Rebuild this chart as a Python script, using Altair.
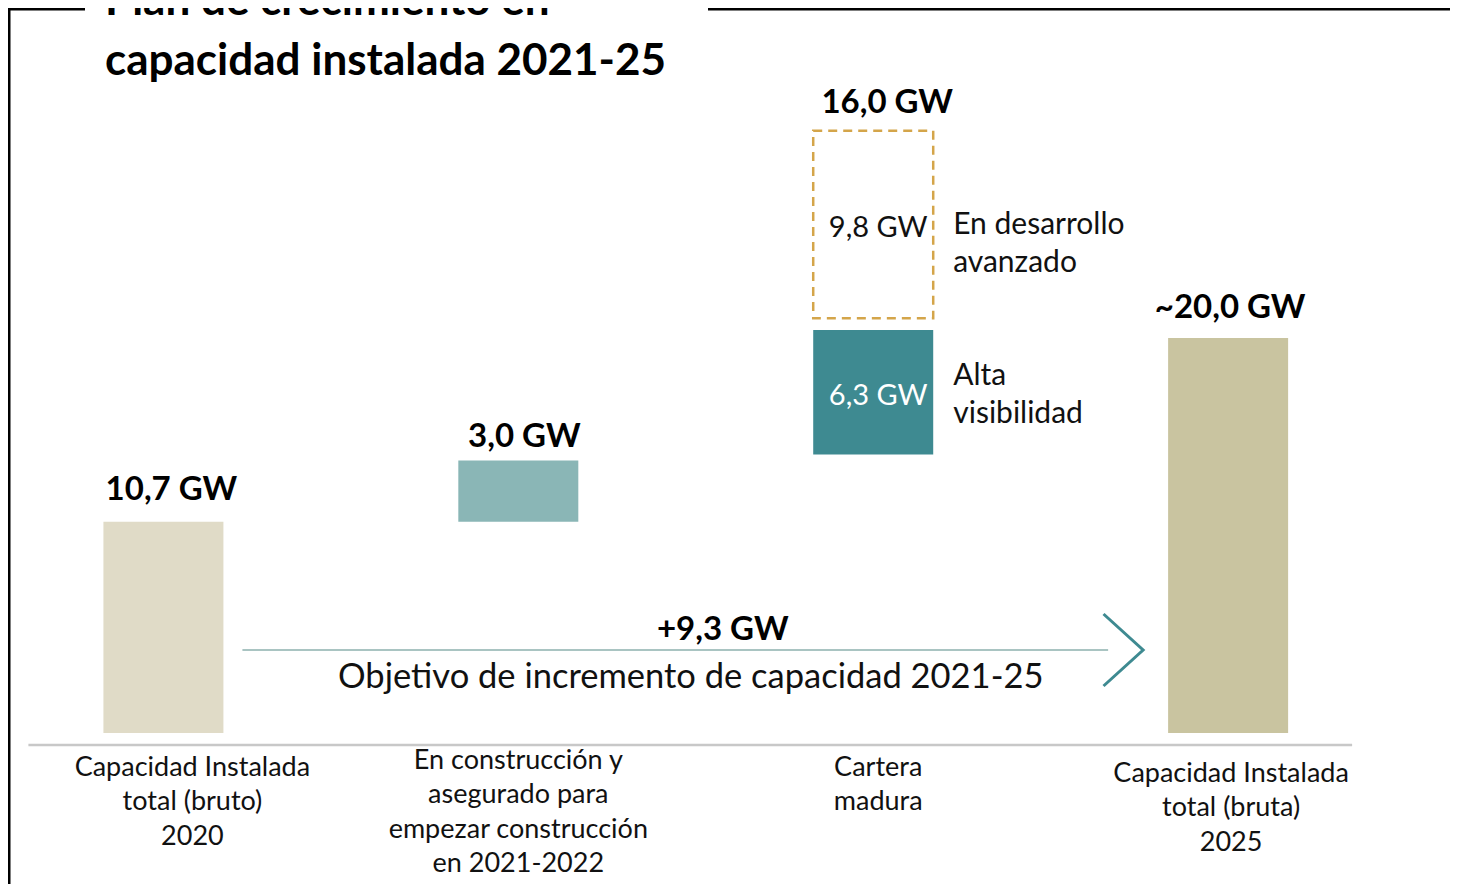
import altair as alt
import pandas as pd

FONT = "Lato"

# ---- data ----
categories = [
    "Capacidad Instalada\ntotal (bruto)\n2020",
    "En construcción y\nasegurado para\nempezar construcción\nen 2021-2022",
    "Cartera\nmadura",
    "Capacidad Instalada\ntotal (bruta)\n2025",
]
cat_slot = [0, 1, 2, 3]

seg_slot = [0, 1, 2, 3]
seg_start = [0.0, 10.7, 14.1, 0.0]
seg_end = [10.7, 13.8, 20.4, 20.0]
seg_kind = ["Capacidad 2020", "En construcción", "Alta visibilidad", "Capacidad 2025"]
seg_colors = ["#E0DBC7", "#8AB6B6", "#3E8A91", "#C9C4A0"]

dev_slot = [2]
dev_start = [21.0]
dev_end = [30.5]

top_slot = [0, 1, 2, 3]
top_value = [10.7, 13.8, 30.5, 20.0]
top_text = ["10,7 GW", "3,0 GW", "16,0 GW", "~20,0 GW"]

inner_slot = [2, 2]
inner_value = [25.75, 17.25]
inner_text = ["9,8 GW", "6,3 GW"]
inner_color = ["#111111", "#FFFFFF"]

note_slot = [2, 2]
note_value = [25.75, 17.25]
note_text = ["En desarrollo\navanzado", "Alta\nvisibilidad"]

growth_text = "+9,3 GW"
objective_text = "Objetivo de incremento de capacidad 2021-25"
title_lines = ["Plan de crecimiento en", "capacidad instalada 2021-25"]

# ---- layout (not data) ----
W, H = 1442, 876
cat_dx = [29, 0, 5, 3]
cat_dy = [22, 15, 22, 28]
top_dx = [8, 6, 14, 2]
top_dy = [-22, -13, -18, -20]
note_dy = [1, -16]

segs = pd.DataFrame({"slot": seg_slot, "start": seg_start, "end": seg_end, "kind": seg_kind})
dev = pd.DataFrame({"slot": dev_slot, "start": dev_start, "end": dev_end})
tops = pd.DataFrame({"slot": top_slot, "value": top_value, "text": top_text})
inner = pd.DataFrame({"slot": inner_slot, "value": inner_value, "text": inner_text, "c": inner_color})
notes = pd.DataFrame({"slot": note_slot, "value": note_value, "text": note_text})
cats = pd.DataFrame({"slot": cat_slot, "text": categories, "zero": [0.0] * 4})

xs = alt.Scale(domain=[-0.4379, 3.6252], nice=False, zero=False, padding=0)
ys = alt.Scale(domain=[-7.646, 36.71], nice=False, zero=False, padding=0)


def X(f="slot"):
    return alt.X(f"{f}:Q", scale=xs, axis=None)


def Y(f):
    return alt.Y(f"{f}:Q", scale=ys, axis=None)


bars = alt.Chart(segs).mark_bar(size=120, orient="vertical").encode(
    x=X(), y=Y("start"), y2="end:Q",
    color=alt.Color("kind:N", scale=alt.Scale(domain=seg_kind, range=seg_colors), legend=None),
)

dashed = alt.Chart(dev).mark_bar(
    size=120, orient="vertical", fill="white", fillOpacity=0,
    stroke="#D4A54A", strokeWidth=2.5, strokeDash=[9, 6],
).encode(x=X(), y=Y("start"), y2="end:Q")

top_layers = [
    alt.Chart(tops.iloc[[i]]).mark_text(
        font=FONT, fontSize=33, fontWeight="bold", color="#000000",
        align="center", baseline="alphabetic", dx=top_dx[i], dy=top_dy[i],
    ).encode(x=X(), y=Y("value"), text="text:N")
    for i in range(len(tops))
]

inner_labels = alt.Chart(inner).mark_text(
    font=FONT, fontSize=29, align="center", baseline="middle", dx=5, dy=4,
).encode(x=X(), y=Y("value"), text="text:N", color=alt.Color("c:N", scale=None))

note_layers = [
    alt.Chart(notes.iloc[[i]]).mark_text(
        font=FONT, fontSize=30, align="left", baseline="middle", dx=80, dy=note_dy[i],
        lineBreak="\n", lineHeight=38, color="#111111",
    ).encode(x=X(), y=Y("value"), text="text:N")
    for i in range(len(notes))
]

cat_layers = [
    alt.Chart(cats.iloc[[i]]).mark_text(
        font=FONT, fontSize=27, align="center", baseline="top",
        lineBreak="\n", lineHeight=34.5, color="#111111", dx=cat_dx[i], dy=cat_dy[i],
    ).encode(x=X(), y=Y("zero"), text="text:N")
    for i in range(len(cats))
]

guides = pd.DataFrame({"first": [0.0], "last": [3.0], "mid": [1.5], "zero": [0.0]})
g = alt.Chart(guides)

baseline = g.mark_rule(
    color="#C8C8C8", strokeWidth=2.5, xOffset=-135, x2Offset=124, yOffset=12,
).encode(x=X("first"), x2="last:Q", y=Y("zero"))

arrow_line = g.mark_rule(
    color="#A9C4C2", strokeWidth=2, xOffset=79, x2Offset=-120, yOffset=-83,
).encode(x=X("first"), x2="last:Q", y=Y("zero"))

chevron = g.mark_point(
    shape="M -1.1 -1 L 0 0 L -1.1 1", size=5184, filled=False,
    stroke="#3E8A91", strokeWidth=3, opacity=1, xOffset=-85, yOffset=-83,
).encode(x=X("last"), y=Y("zero"))

growth = g.mark_text(
    text=growth_text, font=FONT, fontSize=33, fontWeight="bold", color="#000000",
    align="center", baseline="alphabetic", dx=27, dy=-93,
).encode(x=X("mid"), y=Y("zero"))

objective = g.mark_text(
    text=objective_text, font=FONT, fontSize=34.5, color="#111111",
    align="center", baseline="alphabetic", dx=-5, dy=-45,
).encode(x=X("mid"), y=Y("zero"))

title1 = g.mark_text(
    text=title_lines[0], font=FONT, fontSize=44, fontWeight="bold", color="#000000",
    align="left", baseline="alphabetic",
).encode(x=alt.value(97), y=alt.value(7))
title2 = g.mark_text(
    text=title_lines[1], font=FONT, fontSize=44, fontWeight="bold", color="#000000",
    align="left", baseline="alphabetic",
).encode(x=alt.value(97), y=alt.value(67))

frame_left = g.mark_rule(color="#000000", strokeWidth=3).encode(
    x=alt.value(1), y=alt.value(0), y2=alt.value(H))
frame_top1 = g.mark_rule(color="#000000", strokeWidth=3).encode(
    x=alt.value(0), x2=alt.value(77), y=alt.value(1))
frame_top2 = g.mark_rule(color="#000000", strokeWidth=3).encode(
    x=alt.value(700), x2=alt.value(W), y=alt.value(1))

chart = alt.layer(
    frame_left, frame_top1, frame_top2,
    baseline, bars, dashed, *top_layers, inner_labels, *note_layers,
    *cat_layers, arrow_line, chevron, growth, objective, title1, title2,
).properties(
    width=W, height=H, padding=0,
    autosize=alt.AutoSizeParams(type="none"),
).configure_view(stroke=None)

chart.save("out.html", embed_options={"renderer": "svg", "actions": False})
